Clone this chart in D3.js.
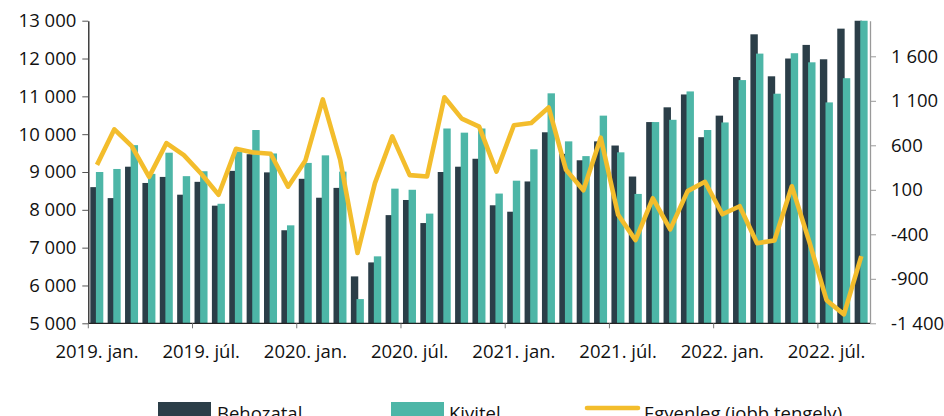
<!DOCTYPE html>
<html>
<head>
<meta charset="utf-8">
<script src="https://cdnjs.cloudflare.com/ajax/libs/d3/7.8.5/d3.min.js"></script>
<style>
    body { margin: 0; background: #fff; }
    svg { display: block; font-family: "Open Sans", sans-serif; }
    .lbl { font-size: 18.5px; fill: #111; }
</style>
</head>
<body>
<div id="chart"></div>
<script>
// months, Jan 2019 - Sep 2022
var months = [
    '2019. jan.', '2019. febr.', '2019. márc.', '2019. ápr.', '2019. máj.', '2019. jún.',
    '2019. júl.', '2019. aug.', '2019. szept.', '2019. okt.', '2019. nov.', '2019. dec.',
    '2020. jan.', '2020. febr.', '2020. márc.', '2020. ápr.', '2020. máj.', '2020. jún.',
    '2020. júl.', '2020. aug.', '2020. szept.', '2020. okt.', '2020. nov.', '2020. dec.',
    '2021. jan.', '2021. febr.', '2021. márc.', '2021. ápr.', '2021. máj.', '2021. jún.',
    '2021. júl.', '2021. aug.', '2021. szept.', '2021. okt.', '2021. nov.', '2021. dec.',
    '2022. jan.', '2022. febr.', '2022. márc.', '2022. ápr.', '2022. máj.', '2022. jún.',
    '2022. júl.', '2022. aug.', '2022. szept.'
];
var tickLabels = ['2019. jan.', '2019. júl.', '2020. jan.', '2020. júl.',
    '2021. jan.', '2021. júl.', '2022. jan.', '2022. júl.'];

var behozatal = [
    8600, 8310, 9140, 8710, 8870, 8400, 8740, 8110, 9030, 9470, 8990, 7460,
    8820, 8320, 8580, 6240, 6610, 7860, 8260, 7650, 9000, 9140, 9350, 8120,
    7950, 8750, 10050, 9480, 9310, 9810, 9700, 8880, 10320, 10710, 11050, 9920,
    10490, 11510, 12640, 11530, 12000, 12360, 11980, 12790, 13900
];
var kivitel = [
    9000, 9080, 9710, 8950, 9510, 8890, 9020, 8160, 9540, 10110, 9490, 7590,
    9240, 9440, 9010, 5640, 6770, 8560, 8530, 7900, 10150, 10040, 10150, 8430,
    8770, 9600, 11080, 9810, 9420, 10490, 9520, 8420, 10320, 10380, 11130, 10110,
    10310, 11430, 12130, 11070, 12140, 11900, 10840, 11480, 13250
];
var egyenleg = [
    380, 780, 590, 245, 625, 490, 280, 45, 560, 520, 505, 135,
    430, 1115, 435, -610, 175, 700, 265, 250, 1140, 900, 810, 305,
    825, 850, 1025, 325, 95, 685, -180, -465, 5, -345, 85, 190,
    -175, -85, -500, -470, 140, -480, -1140, -1300, -645
];
var leftTicks = [5000, 6000, 7000, 8000, 9000, 10000, 11000, 12000, 13000];
var rightTicks = [-1400, -900, -400, 100, 600, 1100, 1600];

var COL_IMP = '#2b3e48';
var COL_EXP = '#4db6a7';
var COL_BAL = '#f3bd2c';

function drawChart() {
    var W = 944, H = 416;
    var pL = 88.3, pR = 870, pT = 20.7, pB = 323.3;

    var svg = d3.select('#chart').append('svg')
        .attr('width', W).attr('height', H)
        .attr('viewBox', [0, 0, W, H].join(' '));

    var x = d3.scaleBand().domain(months).range([pL, pR]).padding(0);
    var y = d3.scaleLinear().domain([5000, 13000]).range([pB, pT]);
    var yR = d3.scaleLinear().domain([-1400, 2000]).range([pB, pT]);

    var loc = d3.formatLocale({ decimal: ',', thousands: '\u00a0', grouping: [3], currency: ['', ''], minus: '-' });
    var fmt = loc.format(',d');

    svg.append('clipPath').attr('id', 'plot')
        .append('rect')
        .attr('x', pL).attr('y', pT)
        .attr('width', pR - pL).attr('height', pB - pT);

    var bw = 7.4;
    var rows = months.map(function (m, i) {
        return { m: m, imp: behozatal[i], exp: kivitel[i], bal: egyenleg[i] };
    });

    var bars = svg.append('g').attr('clip-path', 'url(#plot)');
    bars.selectAll('.imp').data(rows).enter()
        .append('rect')
        .attr('class', 'imp')
        .attr('x', function (d) { return x(d.m) + 2; })
        .attr('y', function (d) { return y(d.imp); })
        .attr('width', bw)
        .attr('height', function (d) { return pB - y(d.imp); })
        .attr('fill', COL_IMP);
    bars.selectAll('.exp').data(rows).enter()
        .append('rect')
        .attr('class', 'exp')
        .attr('x', function (d) { return x(d.m) + 7.6; })
        .attr('y', function (d) { return y(d.exp); })
        .attr('width', bw)
        .attr('height', function (d) { return pB - y(d.exp); })
        .attr('fill', COL_EXP);

    // left axis
    var gL = svg.append('g')
        .attr('transform', 'translate(' + pL + ',0)')
        .call(d3.axisLeft(y).tickValues(leftTicks).tickFormat(fmt).tickSize(6).tickSizeOuter(0).tickPadding(6));
    gL.attr('font-family', null).attr('font-size', null);
    gL.select('.domain').attr('stroke', '#222').attr('stroke-width', 1.3);
    gL.selectAll('.tick line').attr('stroke', '#555');
    gL.selectAll('text').attr('class', 'lbl');

    // right axis
    var gR = svg.append('g')
        .attr('transform', 'translate(' + pR + ',0)')
        .call(d3.axisRight(yR).tickValues(rightTicks).tickFormat(fmt).tickSize(6).tickSizeOuter(0).tickPadding(15));
    gR.attr('font-family', null).attr('font-size', null);
    gR.select('.domain').attr('stroke', '#999').attr('stroke-width', 1.3);
    gR.selectAll('.tick line').attr('stroke', '#999');
    gR.selectAll('text').attr('class', 'lbl');

    // bottom axis: ticks on band edges every 6 months, labels centred
    svg.append('line')
        .attr('x1', pL).attr('x2', pR)
        .attr('y1', pB).attr('y2', pB)
        .attr('stroke', '#222').attr('stroke-width', 1.3);
    var edges = months.filter(function (m, i) { return i % 6 == 0; });
    svg.selectAll('.xtick').data(edges).enter()
        .append('line')
        .attr('x1', function (m) { return x(m); }).attr('x2', function (m) { return x(m); })
        .attr('y1', pB).attr('y2', pB + 5)
        .attr('stroke', '#777');
    svg.selectAll('.xlbl').data(tickLabels).enter()
        .append('text')
        .attr('class', 'lbl')
        .attr('x', function (m) { return x(m) + x.bandwidth() / 2; })
        .attr('y', 358)
        .attr('text-anchor', 'middle')
        .text(function (m) { return m; });

    // balance line (right axis)
    var line = d3.line()
        .x(function (d) { return x(d.m) + x.bandwidth() / 2; })
        .y(function (d) { return yR(d.bal); });
    svg.append('path')
        .datum(rows)
        .attr('d', line)
        .attr('fill', 'none')
        .attr('stroke', COL_BAL)
        .attr('stroke-width', 4.6)
        .attr('stroke-linejoin', 'round');

    // legend
    var lg = svg.append('g');
    lg.append('rect').attr('x', 158).attr('y', 402).attr('width', 53).attr('height', 17).attr('fill', COL_IMP);
    lg.append('text').attr('class', 'lbl').attr('x', 217).attr('y', 420).text('Behozatal');
    lg.append('rect').attr('x', 391).attr('y', 402).attr('width', 53).attr('height', 17).attr('fill', COL_EXP);
    lg.append('text').attr('class', 'lbl').attr('x', 449).attr('y', 420).text('Kivitel');
    lg.append('line').attr('x1', 587).attr('x2', 638).attr('y1', 408).attr('y2', 408)
        .attr('stroke', COL_BAL).attr('stroke-width', 4.6).attr('stroke-linecap', 'round');
    lg.append('text').attr('class', 'lbl').attr('x', 644).attr('y', 420).text('Egyenleg (jobb tengely)');
}

drawChart();
</script>
</body>
</html>
